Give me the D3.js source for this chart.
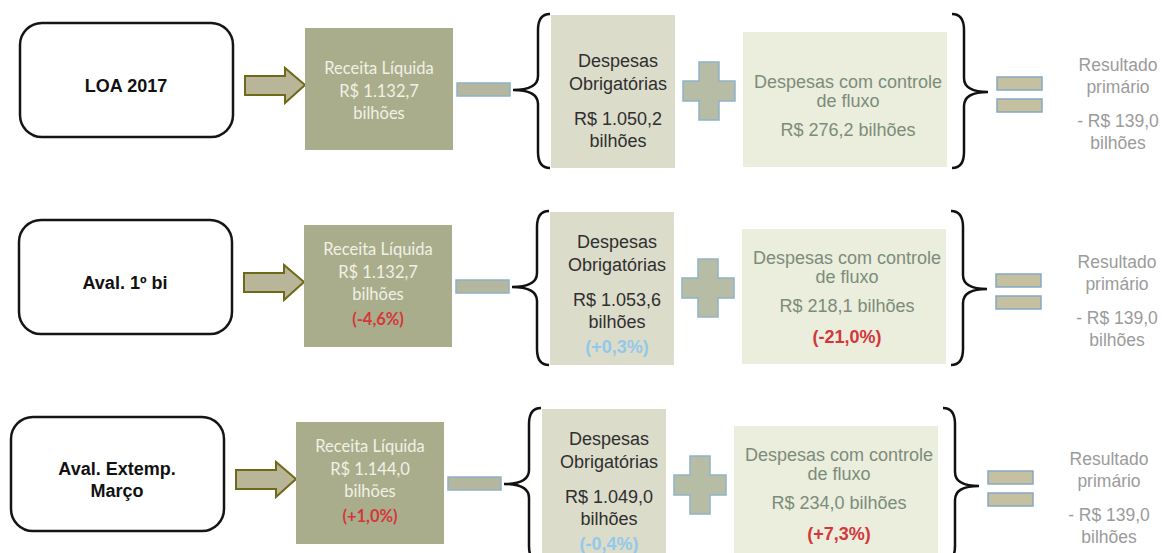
<!DOCTYPE html>
<html>
<head>
<meta charset="utf-8">
<script src="https://cdn.jsdelivr.net/npm/d3@7"></script>
<style>
  body { margin: 0; background: #fff; }
  svg { display: block; }
</style>
</head>
<body>
<div id="chart"></div>
<script>
// values
const cenarios = ["LOA 2017", "Aval. 1º bi", "Aval. Extemp.\nMarço"];
const receita = [1132.7, 1132.7, 1144.0];
const receitaVar = [null, -4.6, 1.0];
const obrigatorias = [1050.2, 1053.6, 1049.0];
const obrigVar = [null, 0.3, -0.4];
const fluxo = [276.2, 218.1, 234.0];
const fluxoVar = [null, -21.0, 7.3];
const resultado = [-139.0, -139.0, -139.0];

var width = 1162, height = 553;

// the scan is a bit skewed, last row sits further left
var rowShift = [0, -1, -9];

var br = d3.formatLocale({decimal: ",", thousands: ".", grouping: [3], currency: ["R$ ", ""], minus: "-"});
var fmt = br.format(",.1f");
var fmtVar = function(v) { return "(" + br.format("+.1f")(v) + "%)"; };

var y = d3.scalePoint()
    .domain(cenarios)
    .range([90, 484]);

var svg = d3.select("#chart").append("svg")
    .attr("width", width)
    .attr("height", height);

var arial = "'Liberation Sans', Arial, sans-serif";
var red = "#d4373b", blue = "#93c9e8";

function lines(g, cx, items, font, size, color, weight) {
  items.forEach(function(it) {
    g.append("text")
      .attr("x", cx)
      .attr("y", it.dy)
      .attr("text-anchor", "middle")
      .attr("dominant-baseline", "middle")
      .style("font-family", font)
      .style("font-size", size + "px")
      .style("font-weight", it.bold ? "bold" : (weight || "normal"))
      .style("fill", it.color || color)
      .text(it.t);
  });
}

function brace(xe, xv, xp, top, bottom, mid) {
  return "M" + xe + "," + top +
    " Q" + xv + "," + top + " " + xv + "," + (top + 16) +
    " L" + xv + "," + (mid - 14) +
    " Q" + xv + "," + mid + " " + xp + "," + mid +
    " Q" + xv + "," + mid + " " + xv + "," + (mid + 14) +
    " L" + xv + "," + (bottom - 16) +
    " Q" + xv + "," + bottom + " " + xe + "," + bottom;
}

cenarios.forEach(function(nome, i) {
  var c = y(nome);
  var g = svg.append("g")
      .attr("transform", "translate(" + rowShift[i] + "," + c + ")");

  // scenario box
  g.append("rect")
    .attr("x", 20).attr("y", -67)
    .attr("width", 213).attr("height", 114)
    .attr("rx", 22)
    .attr("fill", "#fff")
    .attr("stroke", "#151515")
    .attr("stroke-width", 2.5);
  var nl = nome.split("\n");
  lines(g, 126, nl.map(function(t, k) { return {t: t, dy: -3 + (k - (nl.length - 1) / 2) * 22}; }),
    arial, 18, "#111", "bold");

  // arrow
  g.append("path")
    .attr("d", "M245,-14 L285,-14 L285,-22 L305,-5 L285,13 L285,5 L245,5 Z")
    .attr("fill", "#b8b598")
    .attr("stroke", "#6e6a18")
    .attr("stroke-width", 2)
    .attr("stroke-linejoin", "miter");

  // receita
  g.append("rect")
    .attr("x", 305).attr("y", -62)
    .attr("width", 148).attr("height", 122)
    .attr("fill", "#a9ad8b");
  var s = receitaVar[i] === null ? 0 : -16;
  var rl = [
    {t: "Receita Líquida", dy: -20 + s},
    {t: "R$ " + fmt(receita[i]), dy: 3 + s},
    {t: "bilhões", dy: 25 + s}
  ];
  if (receitaVar[i] !== null) rl.push({t: fmtVar(receitaVar[i]), dy: 34, color: red, bold: true});
  lines(g, 379, rl, "Lato, 'Open Sans', sans-serif", 16.5, "#f1f1e6");

  // minus
  g.append("rect")
    .attr("x", 457).attr("y", -7)
    .attr("width", 53).attr("height", 13)
    .attr("fill", "#b4b79e")
    .attr("stroke", "#8fb1c8")
    .attr("stroke-width", 1.5);

  // left brace
  g.append("path")
    .attr("d", brace(550, 538, 513, -76, 78, 0))
    .attr("fill", "none")
    .attr("stroke", "#111")
    .attr("stroke-width", 2.5);

  // obrigatorias
  g.append("rect")
    .attr("x", 551).attr("y", -75)
    .attr("width", 124).attr("height", 153)
    .attr("fill", "#dcdccb");
  var so = obrigVar[i] === null ? 0 : -16;
  var ol = [
    {t: "Despesas", dy: -28 + so},
    {t: "Obrigatórias", dy: -5 + so},
    {t: "R$ " + fmt(obrigatorias[i]), dy: 30 + so},
    {t: "bilhões", dy: 52 + so}
  ];
  if (obrigVar[i] !== null) ol.push({t: fmtVar(obrigVar[i]), dy: 61, color: blue, bold: true});
  lines(g, 618, ol, arial, 18, "#2f2f2f");

  // plus
  g.append("path")
    .attr("d", "M699,-28 L719,-28 L719,-9 L735,-9 L735,11 L719,11 L719,30 L699,30 L699,11 L683,11 L683,-9 L699,-9 Z")
    .attr("fill", "#b7bca5")
    .attr("stroke", "#8fb2c8")
    .attr("stroke-width", 1.5);

  // fluxo
  g.append("rect")
    .attr("x", 743).attr("y", -58)
    .attr("width", 204).attr("height", 135)
    .attr("fill", "#ebeddd");
  var sf = fluxoVar[i] === null ? 0 : -21;
  var fl = [
    {t: "Despesas com controle", dy: -7 + sf},
    {t: "de fluxo", dy: 12 + sf},
    {t: "R$ " + fmt(fluxo[i]) + " bilhões", dy: 41 + sf}
  ];
  if (fluxoVar[i] !== null) fl.push({t: fmtVar(fluxoVar[i]), dy: 51, color: red, bold: true});
  lines(g, 848, fl, arial, 18, "#7c8c7a");

  // right brace
  g.append("path")
    .attr("d", brace(952, 964, 988, -76, 78, 2))
    .attr("fill", "none")
    .attr("stroke", "#111")
    .attr("stroke-width", 2.5);

  // equals
  [-13, 9].forEach(function(dy) {
    g.append("rect")
      .attr("x", 997).attr("y", dy)
      .attr("width", 45).attr("height", 13)
      .attr("fill", "#c4c0a0")
      .attr("stroke", "#86a8c4")
      .attr("stroke-width", 1.5);
  });

  // resultado
  lines(g, 1118, [
    {t: "Resultado", dy: -24},
    {t: "primário", dy: -2},
    {t: (resultado[i] < 0 ? "- " : "") + "R$ " + fmt(Math.abs(resultado[i])), dy: 32},
    {t: "bilhões", dy: 54}
  ], arial, 17.5, "#9b9b9b");
});
</script>
</body>
</html>
